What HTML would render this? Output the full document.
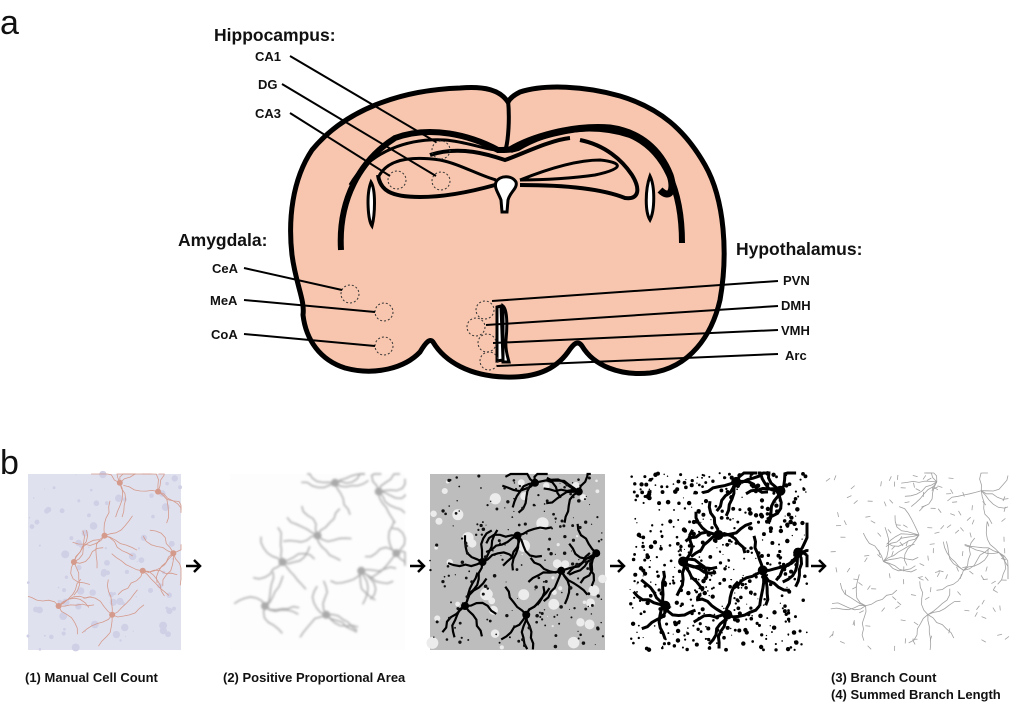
<!DOCTYPE html>
<html><head><meta charset="utf-8"><style>
html,body{margin:0;padding:0;background:#fff;width:1020px;height:706px;overflow:hidden}
svg{display:block}
text{font-family:"Liberation Sans",Arial,sans-serif;font-weight:bold;fill:#111}
</style></head><body>
<svg id="s" width="1020" height="706" viewBox="0 0 1020 706" xmlns="http://www.w3.org/2000/svg">
<defs><filter id="bl"><feGaussianBlur stdDeviation="1"/></filter></defs>
<text x="0" y="34" font-size="34" style="font-weight:normal">a</text>
<text x="0" y="474" font-size="34" style="font-weight:normal">b</text>

<!-- brain -->
<path d="M508,102 C500,90 485,86 460,88 C400,90 345,110 312,150 C292,180 288,220 292,255 C296,285 305,300 303,315 C306,340 320,360 345,368 C375,376 405,368 420,352 C426,342 430,338 433,342 C445,362 470,376 505,377 C535,378 555,370 568,352 C574,343 578,340 582,346 C594,366 620,376 650,373 C690,368 712,335 720,300 C728,255 725,200 705,165 C685,130 660,108 620,96 C585,86 545,84 520,92 C514,95 510,98 508,102 Z" fill="#f8c6ae" stroke="#000" stroke-width="5"/>
<path d="M508,100 C510,120 508,140 506,148" fill="none" stroke="#000" stroke-width="4"/>
<!-- big arcs -->
<path d="M341,250 C338,200 360,160 395,138 C430,125 470,135 498,150 C505,150 512,150 518,148 C548,130 590,122 630,135 C665,150 682,190 682,243" fill="none" stroke="#000" stroke-width="6"/>
<path d="M350,185 C370,150 410,138 445,140 C470,142 490,152 505,150" fill="none" stroke="#000" stroke-width="3"/>
<path d="M510,150 C530,138 570,125 610,128 C640,132 660,150 670,175 C675,190 670,200 660,190" fill="none" stroke="#000" stroke-width="7"/>
<!-- hippocampus -->
<path d="M378,175 C380,190 390,197 420,197 C445,197 470,192 495,185" fill="none" stroke="#000" stroke-width="4"/>
<path d="M378,178 C385,162 405,155 440,160 C460,164 478,175 496,180" fill="none" stroke="#000" stroke-width="3"/>
<path d="M520,180 C545,170 575,160 600,160 C620,162 628,168 595,175 C575,178 545,180 520,180" fill="none" stroke="#000" stroke-width="3"/>
<path d="M520,185 C560,185 600,188 625,198 C640,200 640,188 632,175 C622,160 605,145 580,140" fill="none" stroke="#000" stroke-width="4"/>
<path d="M430,155 C460,145 490,155 505,160 C520,155 550,140 570,138" fill="none" stroke="#000" stroke-width="4"/>
<path d="M496,182 C500,175 512,175 516,182 C518,188 510,192 508,200 L507,212 L502,212 L501,200 C498,192 494,188 496,182 Z" fill="#fff" stroke="#000" stroke-width="3"/>
<path d="M371,182 C376,190 375,215 372,226 C368,220 366,195 371,182 Z" fill="#fff" stroke="#000" stroke-width="3"/>
<path d="M650,176 C655,186 655,210 650,220 C645,212 645,190 650,176 Z" fill="#fff" stroke="#000" stroke-width="3"/>
<path d="M497,307 L501,306 L503,360 L497,361 Z M503,306 C508,310 507,330 506,340 C505,350 508,358 509,362 L503,362 Z" fill="#fff" stroke="#000" stroke-width="3"/>

<g fill="none" stroke="#333" stroke-width="1" stroke-dasharray="2,2">
<circle cx="441" cy="150" r="9"/><circle cx="441" cy="181" r="9"/><circle cx="397" cy="180" r="9"/>
<circle cx="350" cy="294" r="9"/><circle cx="384" cy="312" r="9"/><circle cx="384" cy="346" r="9"/>
<circle cx="485" cy="310" r="9"/><circle cx="476" cy="327" r="9"/><circle cx="487" cy="343" r="9"/><circle cx="489" cy="361" r="9"/>
</g>
<g stroke="#000" stroke-width="2" fill="none">
<line x1="290" y1="56" x2="436" y2="142"/>
<line x1="282" y1="84" x2="436" y2="176"/>
<line x1="290" y1="113" x2="390" y2="176"/>
<line x1="244" y1="268" x2="342" y2="290"/>
<line x1="244" y1="300" x2="375" y2="312"/>
<line x1="244" y1="334" x2="375" y2="346"/>
<line x1="492" y1="301" x2="778" y2="281"/>
<line x1="486" y1="325" x2="778" y2="306"/>
<line x1="493" y1="343" x2="778" y2="330"/>
<line x1="497" y1="366" x2="778" y2="354"/>
</g>
<text x="214" y="41" font-size="17.5">Hippocampus:</text>
<text x="255" y="61" font-size="13">CA1</text>
<text x="258" y="89" font-size="13">DG</text>
<text x="255" y="118" font-size="13">CA3</text>
<text x="178" y="246" font-size="17.5">Amygdala:</text>
<text x="212" y="273" font-size="13">CeA</text>
<text x="210" y="305" font-size="13">MeA</text>
<text x="211" y="339" font-size="13">CoA</text>
<text x="736" y="255" font-size="17.5">Hypothalamus:</text>
<text x="783" y="285" font-size="13">PVN</text>
<text x="781" y="310" font-size="13">DMH</text>
<text x="781" y="335" font-size="13">VMH</text>
<text x="785" y="360" font-size="13">Arc</text>

<rect x="28" y="474" width="153" height="176" fill="#e0e1ee"/>
<rect x="230" y="474" width="175" height="176" fill="#fdfdfd"/>
<rect x="430" y="474" width="175" height="176" fill="#bdbdbd"/>
<rect x="630" y="473" width="177" height="177" fill="#fff"/>
<rect x="830" y="473" width="178" height="177" fill="#fff"/>
<g id="p1"></g><g id="p2" filter="url(#bl)"></g><g id="p3"></g><g id="p4"></g><g id="p5"></g>

<g fill="none" stroke="#000" stroke-width="2.5">
<path d="M186,566 L200,566 M194,560 L200,566 L194,572"/>
<path d="M410,566 L424,566 M418,560 L424,566 L418,572"/>
<path d="M610,566 L624,566 M618,560 L624,566 L618,572"/>
<path d="M811,566 L825,566 M819,560 L825,566 L819,572"/>
</g>
<text x="25" y="682" font-size="13">(1) Manual Cell Count</text>
<text x="223" y="682" font-size="13">(2) Positive Proportional Area</text>
<text x="831" y="682" font-size="13">(3) Branch Count</text>
<text x="831" y="699" font-size="13">(4) Summed Branch Length</text>
</svg>
<script>
var seed=7;function r(){seed=(seed*16807)%2147483647;return seed/2147483647;}
var NS="http://www.w3.org/2000/svg";
function G(i){return document.getElementById(i);}
function el(g,t,a){var e=document.createElementNS(NS,t);for(var k in a)e.setAttribute(k,a[k]);g.appendChild(e);return e;}
var cells=[[0.6,0.05],[0.85,0.1],[0.3,0.5],[0.75,0.55],[0.2,0.75],[0.55,0.8],[0.95,0.45],[0.5,0.35]];
function tree(g,x0,y0,w,h,col,sw,soma,seg){
 for(var c=0;c<cells.length;c++){var cx=x0+cells[c][0]*w,cy=y0+cells[c][1]*h;
  if(soma)el(g,"circle",{cx:cx,cy:cy,r:soma,fill:col});
  for(var b=0;b<6;b++){var x=cx,y=cy,a=r()*6.28,d="M"+x+","+y;
   for(var s=0;s<6;s++){a+=(r()-0.5)*1.2;x+=Math.cos(a)*(seg||6);y+=Math.sin(a)*(seg||6);
    x=Math.max(x0,Math.min(x0+w,x));y=Math.max(y0,Math.min(y0+h,y));d+=" L"+x.toFixed(1)+","+y.toFixed(1);}
   el(g,"path",{d:d,stroke:col,"stroke-width":sw,fill:"none"});}}
}
function dots(g,x0,y0,w,h,n,col,rmax){for(var i=0;i<n;i++)el(g,"circle",{cx:x0+r()*w,cy:y0+r()*h,r:0.5+r()*rmax,fill:col});}
dots(G("p1"),28,474,153,176,90,"#cfcfe6",3.5);
tree(G("p1"),28,474,153,176,"#d49a8c",0.8,3);
tree(G("p2"),230,474,175,176,"#aaa",1.4,4);
dots(G("p3"),430,474,175,176,50,"#ececec",6);
tree(G("p3"),430,474,175,176,"#000",2.2,4);
dots(G("p3"),430,474,175,176,200,"#111",1.3);
tree(G("p4"),630,473,177,177,"#000",3,5);
dots(G("p4"),630,473,177,177,550,"#000",1.8);
tree(G("p5"),830,473,178,177,"#a0a0a0",0.8,0);
for(var i=0;i<140;i++){var x=830+r()*175,y=475+r()*172,a=r()*6.28;el(G("p5"),"line",{x1:x,y1:y,x2:x+Math.cos(a)*5,y2:y+Math.sin(a)*5,stroke:"#a0a0a0","stroke-width":0.8});}
</script>
</body></html>
